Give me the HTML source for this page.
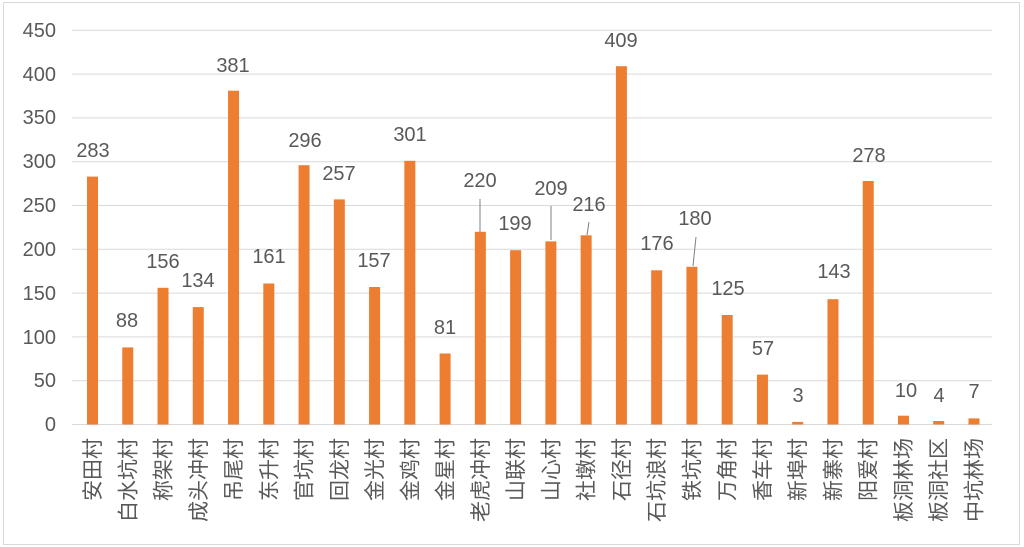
<!DOCTYPE html>
<html><head><meta charset="utf-8"><style>
html,body{margin:0;padding:0;background:#fff;}
svg{display:block;}
text{font-family:"Liberation Sans","Noto Sans CJK SC",sans-serif;fill:#595959;}
</style></head><body>
<svg width="1024" height="547" viewBox="0 0 1024 547" xmlns="http://www.w3.org/2000/svg">
<rect x="3.5" y="2.5" width="1016" height="542" fill="#fff" stroke="#d9d9d9"/>
<g stroke="#d9d9d9" stroke-width="1">
<line x1="72" x2="992" y1="424.5" y2="424.5"/>
<line x1="72" x2="992" y1="380.7" y2="380.7"/>
<line x1="72" x2="992" y1="336.9" y2="336.9"/>
<line x1="72" x2="992" y1="293.1" y2="293.1"/>
<line x1="72" x2="992" y1="249.3" y2="249.3"/>
<line x1="72" x2="992" y1="205.5" y2="205.5"/>
<line x1="72" x2="992" y1="161.7" y2="161.7"/>
<line x1="72" x2="992" y1="117.9" y2="117.9"/>
<line x1="72" x2="992" y1="74.1" y2="74.1"/>
<line x1="72" x2="992" y1="30.3" y2="30.3"/>
</g>
<g font-size="20" text-anchor="end">
<text x="56" y="431">0</text><text x="56" y="387">50</text><text x="56" y="344">100</text>
<text x="56" y="300">150</text><text x="56" y="256">200</text><text x="56" y="212">250</text>
<text x="56" y="168">300</text><text x="56" y="124">350</text><text x="56" y="81">400</text>
<text x="56" y="37">450</text>
</g>
<g fill="#ed7d31">
<rect x="87" y="176.6" width="11" height="247.9"/>
<rect x="122.26" y="347.4" width="11" height="77.1"/>
<rect x="157.52" y="287.8" width="11" height="136.7"/>
<rect x="192.78" y="307.1" width="11" height="117.4"/>
<rect x="228.04" y="90.7" width="11" height="333.8"/>
<rect x="263.3" y="283.5" width="11" height="141"/>
<rect x="298.56" y="165.2" width="11" height="259.3"/>
<rect x="333.82" y="199.4" width="11" height="225.1"/>
<rect x="369.08" y="287" width="11" height="137.5"/>
<rect x="404.34" y="160.8" width="11" height="263.7"/>
<rect x="439.6" y="353.5" width="11" height="71"/>
<rect x="474.86" y="231.8" width="11" height="192.7"/>
<rect x="510.12" y="250.2" width="11" height="174.3"/>
<rect x="545.38" y="241.4" width="11" height="183.1"/>
<rect x="580.64" y="235.3" width="11" height="189.2"/>
<rect x="615.9" y="66.2" width="11" height="358.3"/>
<rect x="651.16" y="270.3" width="11" height="154.2"/>
<rect x="686.42" y="266.8" width="11" height="157.7"/>
<rect x="721.68" y="315" width="11" height="109.5"/>
<rect x="756.94" y="374.6" width="11" height="49.9"/>
<rect x="792.2" y="421.9" width="11" height="2.6"/>
<rect x="827.46" y="299.2" width="11" height="125.3"/>
<rect x="862.72" y="181" width="11" height="243.5"/>
<rect x="897.98" y="415.7" width="11" height="8.8"/>
<rect x="933.24" y="421" width="11" height="3.5"/>
<rect x="968.5" y="418.4" width="11" height="6.1"/>
</g>
<g font-size="20" text-anchor="middle">
<text x="93" y="157">283</text>
<text x="127" y="327">88</text>
<text x="163" y="268">156</text>
<text x="198" y="287">134</text>
<text x="233" y="72">381</text>
<text x="269" y="263">161</text>
<text x="305" y="147">296</text>
<text x="339" y="180">257</text>
<text x="374" y="267">157</text>
<text x="410" y="141">301</text>
<text x="445" y="334">81</text>
<text x="480" y="187">220</text>
<text x="515" y="230">199</text>
<text x="551" y="195">209</text>
<text x="589" y="211">216</text>
<text x="621" y="47">409</text>
<text x="657" y="250">176</text>
<text x="695" y="225">180</text>
<text x="728" y="295">125</text>
<text x="763" y="355">57</text>
<text x="798" y="402">3</text>
<text x="834" y="278">143</text>
<text x="869" y="162">278</text>
<text x="906" y="397">10</text>
<text x="939" y="402">4</text>
<text x="974" y="398">7</text>
</g>
<g stroke="#7f7f7f" stroke-width="1">
<line x1="480" y1="199" x2="480" y2="232"/>
<line x1="551" y1="206" x2="551" y2="240"/>
<line x1="589" y1="222" x2="587" y2="235"/>
<line x1="696" y1="237" x2="693" y2="266"/>
</g>
<g font-size="21" text-anchor="end">
<text transform="translate(100,438) rotate(-90)">安田村</text>
<text transform="translate(135.26,438) rotate(-90)">白水坑村</text>
<text transform="translate(170.52,438) rotate(-90)">称架村</text>
<text transform="translate(205.78,438) rotate(-90)">成头冲村</text>
<text transform="translate(241.04,438) rotate(-90)">吊尾村</text>
<text transform="translate(276.3,438) rotate(-90)">东升村</text>
<text transform="translate(311.56,438) rotate(-90)">官坑村</text>
<text transform="translate(346.82,438) rotate(-90)">回龙村</text>
<text transform="translate(382.08,438) rotate(-90)">金光村</text>
<text transform="translate(417.34,438) rotate(-90)">金鸡村</text>
<text transform="translate(452.6,438) rotate(-90)">金星村</text>
<text transform="translate(487.86,438) rotate(-90)">老虎冲村</text>
<text transform="translate(523.12,438) rotate(-90)">山联村</text>
<text transform="translate(558.38,438) rotate(-90)">山心村</text>
<text transform="translate(593.64,438) rotate(-90)">社墩村</text>
<text transform="translate(628.9,438) rotate(-90)">石径村</text>
<text transform="translate(664.16,438) rotate(-90)">石坑浪村</text>
<text transform="translate(699.42,438) rotate(-90)">铁坑村</text>
<text transform="translate(734.68,438) rotate(-90)">万角村</text>
<text transform="translate(769.94,438) rotate(-90)">香车村</text>
<text transform="translate(805.2,438) rotate(-90)">新埠村</text>
<text transform="translate(840.46,438) rotate(-90)">新寨村</text>
<text transform="translate(875.72,438) rotate(-90)">阳爱村</text>
<text transform="translate(910.98,438) rotate(-90)">板洞林场</text>
<text transform="translate(946.24,438) rotate(-90)">板洞社区</text>
<text transform="translate(981.5,438) rotate(-90)">中坑林场</text>
</g>
</svg>
</body></html>
